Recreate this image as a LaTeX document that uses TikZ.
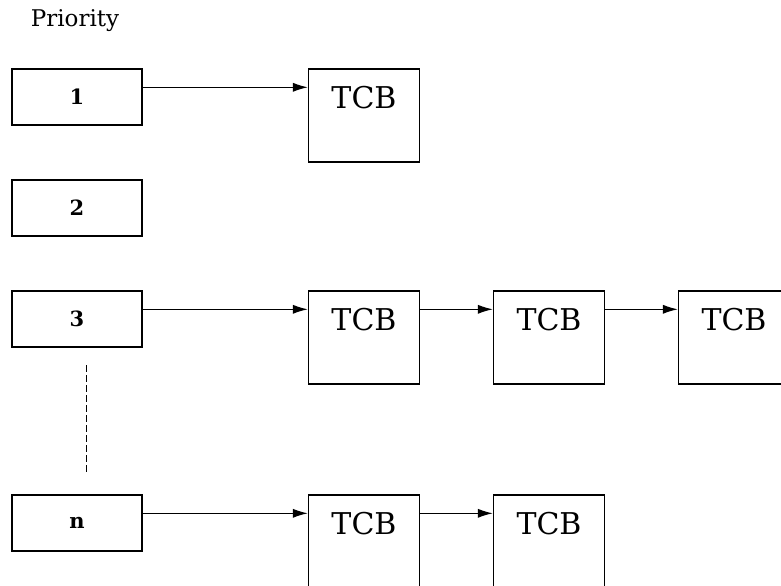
\documentclass[tikz,border=0pt]{standalone}
\usepackage{amssymb}
\usepackage{amsmath}
\usepackage{fontspec}
\setmainfont{DejaVu Serif}
\usepackage{tikz}
\usetikzlibrary{positioning, arrows.meta}

\tikzset{
  prio/.style={draw, line width=0.7pt, minimum width=65pt, minimum height=28pt, inner sep=0pt, font=\fontsize{10.5}{13}\selectfont\bfseries},
  tcb/.style={draw, line width=0.7pt, minimum width=55.5pt, inner sep=0pt, text height=19.5pt, text depth=27pt, font=\fontsize{15}{18}\selectfont},
  link/.style={-{Latex[length=7.5pt,width=4.6pt]}, line width=0.6pt}
}

\begin{document}
\begin{tikzpicture}[x=0.5pt,y=-0.5pt]
            \useasboundingbox (0,0) rectangle (781,585);
            \node[font=\fontsize{11.5}{14}\selectfont] (title) at (75,21) {Priority};

            \node[prio] (p1) at (77,97) {1};
            \node[prio] (p2) at (77,208) {2};
            \node[prio] (p3) at (77,319) {3};
            \node[prio] (pn) at (77,523) {n};

            \node[tcb] (t1) at (364,115.5) {TCB};
            \node[tcb] (t3a) at (364,337.5) {TCB};
            \node[tcb] (t3b) at (549,337.5) {TCB};
            \node[tcb] (t3c) at (734,337.5) {TCB};
            \node[tcb] (tna) at (364,541.5) {TCB};
            \node[tcb] (tnb) at (549,541.5) {TCB};

            \coordinate (d1) at (86.5,365);
            \coordinate (d2) at (86.5,475);

            \draw[link] ([yshift=-9.5pt]p1.north east) -- ([yshift=-9.5pt]t1.north west);
            \draw[link] ([yshift=-9.5pt]p3.north east) -- ([yshift=-9.5pt]t3a.north west);
            \draw[link] ([yshift=-9.5pt]t3a.north east) -- ([yshift=-9.5pt]t3b.north west);
            \draw[link] ([yshift=-9.5pt]t3b.north east) -- ([yshift=-9.5pt]t3c.north west);
            \draw[link] ([yshift=-9.5pt]pn.north east) -- ([yshift=-9.5pt]tna.north west);
            \draw[link] ([yshift=-9.5pt]tna.north east) -- ([yshift=-9.5pt]tnb.north west);
            \draw[line width=0.6pt, dash pattern=on 3.5pt off 1.5pt] (d1) -- (d2);
        \end{tikzpicture}
\end{document}
